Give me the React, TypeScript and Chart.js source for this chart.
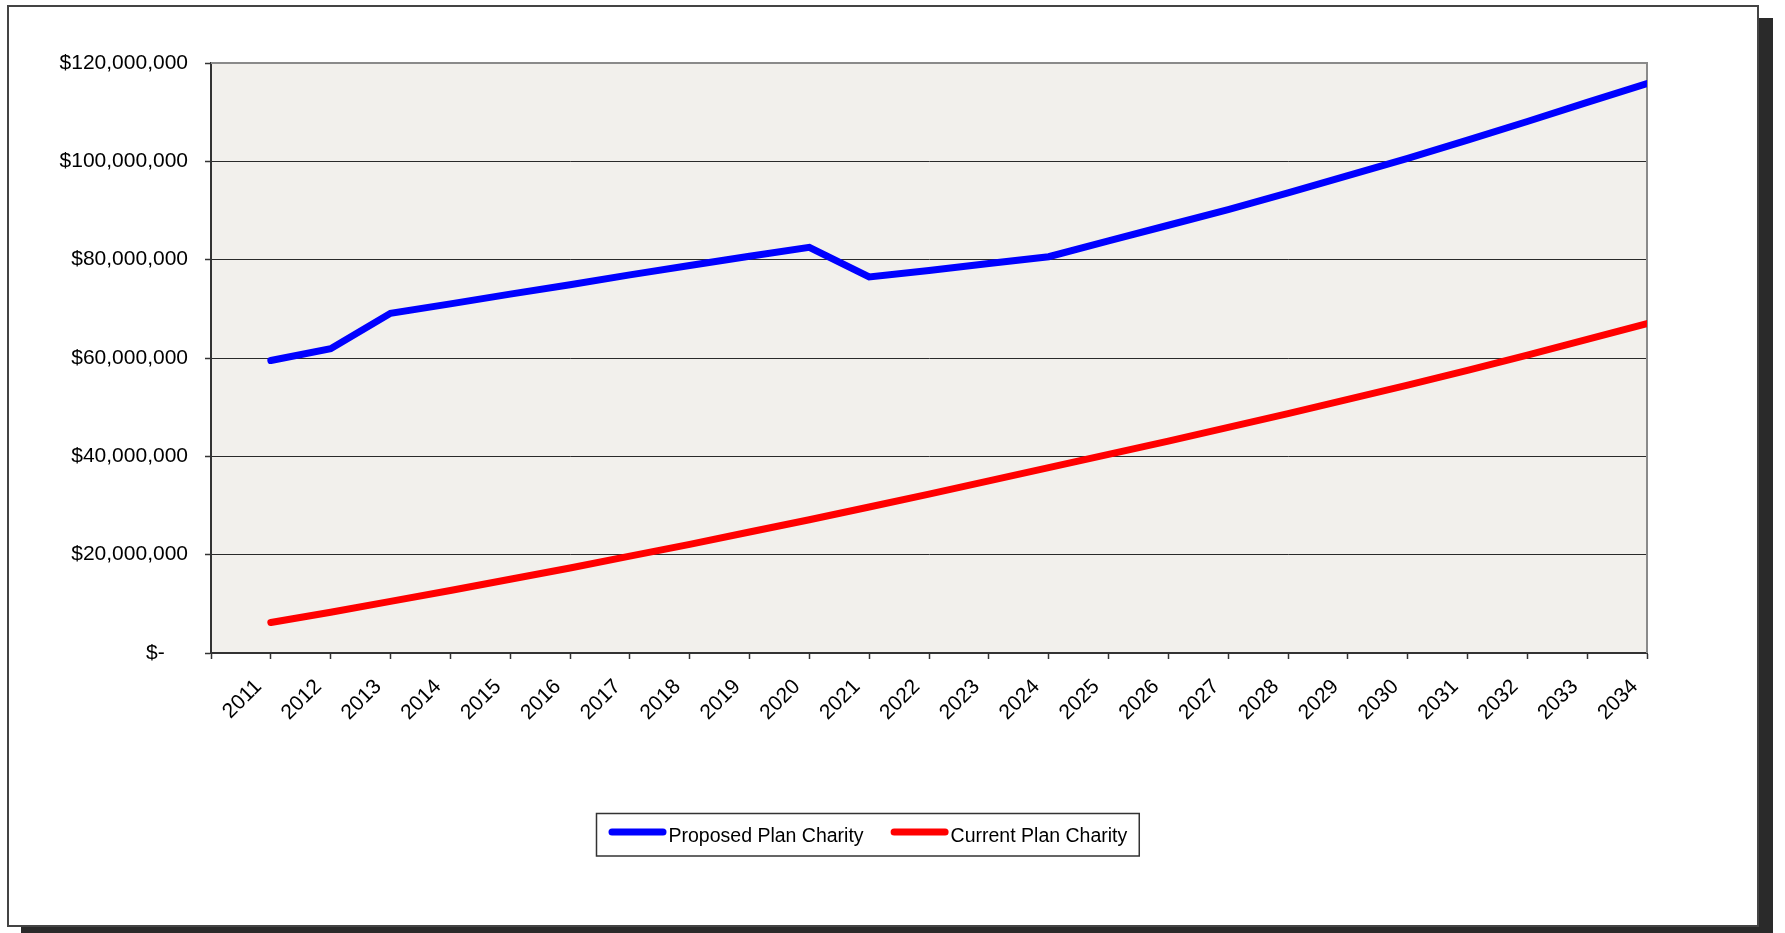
import { useEffect, useRef } from 'react';
import { Chart, registerables } from 'chart.js';

Chart.register(...registerables);

const FONT = "'Liberation Sans', Arial, Helvetica, sans-serif";

// Plan years
const years = [
  '2011', '2012', '2013', '2014', '2015', '2016', '2017', '2018', '2019', '2020', '2021', '2022',
  '2023', '2024', '2025', '2026', '2027', '2028', '2029', '2030', '2031', '2032', '2033', '2034',
];

// Charity totals, in millions of dollars
const proposedPlanCharity = [
  59.5, 61.9, 69.1, 71.0, 73.0, 74.9, 76.9, 78.8, 80.7, 82.5, 76.5, 77.8,
  79.2, 80.6, 83.8, 87.0, 90.2, 93.6, 97.1, 100.6, 104.3, 108.1, 112.0, 115.8,
];
const currentPlanCharity = [
  6.2, 8.3, 10.5, 12.7, 15.0, 17.3, 19.7, 22.1, 24.6, 27.1, 29.7, 32.3,
  35.0, 37.7, 40.4, 43.1, 45.9, 48.7, 51.6, 54.5, 57.5, 60.6, 63.8, 67.0,
];

// Value axis ticks, in millions
const yTicks = [0, 20, 40, 60, 80, 100, 120];

const seriesNames = ['Proposed Plan Charity', 'Current Plan Charity'];
const seriesColors = ['#0000FF', '#FF0000'];

function formatDollars(millions: number): string {
  if (millions === 0) return '$-    ';
  const whole = Math.round(millions * 1e6).toString();
  return '$' + whole.replace(/\B(?=(\d{3})+(?!\d))/g, ',');
}

// Shaded plot background plus the grey top and right edges of the plot.
const plotFrame = {
  id: 'plotFrame',
  beforeDraw(chart: any) {
    const { ctx, chartArea: a } = chart;
    ctx.save();
    ctx.fillStyle = '#F2F0EC';
    ctx.fillRect(a.left, a.top, a.right - a.left, a.bottom - a.top);
    ctx.restore();
  },
  beforeDatasetsDraw(chart: any) {
    const { ctx, chartArea: a } = chart;
    ctx.save();
    ctx.strokeStyle = '#8a8a8a';
    ctx.lineWidth = 2;
    ctx.beginPath();
    ctx.moveTo(a.left, a.top);
    ctx.lineTo(a.right, a.top);
    ctx.lineTo(a.right, a.bottom);
    ctx.stroke();
    ctx.restore();
  },
};

// Legend with line samples, enclosed in a thin box below the axis.
const boxedLegend = {
  id: 'boxedLegend',
  afterDraw(chart: any) {
    const ctx = chart.ctx;
    const datasets = chart.data.datasets;
    const left = 596.5;
    const top = 813.5;
    const height = 42.5;
    const sampleLen = 58;
    const lineY = top + 18.5;
    const textY = top + 28.5;
    ctx.save();
    ctx.font = `19.5px ${FONT}`;
    ctx.textAlign = 'left';
    ctx.textBaseline = 'alphabetic';
    let x = left + 12;
    datasets.forEach((ds: any, i: number) => {
      ctx.strokeStyle = ds.borderColor;
      ctx.lineWidth = 7;
      ctx.lineCap = 'round';
      ctx.beginPath();
      ctx.moveTo(x + 3.5, lineY);
      ctx.lineTo(x + sampleLen - 3.5, lineY);
      ctx.stroke();
      x += sampleLen + 2;
      ctx.fillStyle = '#000';
      ctx.fillText(ds.label, x, textY);
      x += ctx.measureText(ds.label).width;
      if (i < datasets.length - 1) x += 27;
    });
    const right = x + 12;
    ctx.strokeStyle = '#333';
    ctx.lineWidth = 1.5;
    ctx.strokeRect(left, top, right - left, height);
    ctx.restore();
  },
};

export default function App() {
  const canvasRef = useRef<HTMLCanvasElement>(null);

  useEffect(() => {
    const canvas = canvasRef.current;
    if (!canvas) return;

    const labels = ['', ...years];
    const series = [proposedPlanCharity, currentPlanCharity];

    const chart = new Chart(canvas, {
      type: 'line',
      data: {
        labels,
        datasets: series.map((values, i) => ({
          label: seriesNames[i],
          data: [null, ...values],
          borderColor: seriesColors[i],
          backgroundColor: seriesColors[i],
          borderWidth: 7,
          borderCapStyle: 'round',
          borderJoinStyle: 'miter',
          pointRadius: 0,
          pointHoverRadius: 0,
          tension: 0,
          fill: false,
          clip: 0,
        })),
      },
      options: {
        responsive: false,
        animation: false,
        events: [],
        layout: { padding: { left: 0, top: 63, right: 138, bottom: 180 } },
        plugins: {
          legend: { display: false },
          tooltip: { enabled: false },
        },
        scales: {
          x: {
            type: 'category',
            offset: false,
            grid: {
              display: true,
              drawOnChartArea: false,
              drawTicks: true,
              tickLength: 6,
              tickColor: '#333',
              tickWidth: 1.5,
            },
            border: { display: true, color: '#333', width: 2 },
            ticks: {
              autoSkip: false,
              maxRotation: 45,
              minRotation: 45,
              padding: 3,
              color: '#000',
              font: { family: FONT, size: 21 },
              // trailing spaces keep each year clear of its tick mark
              callback: (_v: any, i: number) => (labels[i] ? labels[i] + '   ' : ''),
            },
            afterFit: (scale: any) => {
              scale.height = 100;
            },
          },
          y: {
            type: 'linear',
            min: 0,
            max: 120,
            afterBuildTicks: (scale: any) => {
              scale.ticks = yTicks.map((v) => ({ value: v }));
            },
            grid: {
              color: (c: any) => (c.tick && c.tick.value === 120 ? 'rgba(0,0,0,0)' : '#2a2a2a'),
              lineWidth: 1,
              drawTicks: true,
              tickLength: 6,
              tickColor: '#333',
              tickWidth: 1.5,
            },
            border: { display: true, color: '#333', width: 2 },
            ticks: {
              padding: 17,
              color: '#000',
              font: { family: FONT, size: 21 },
              callback: (v: any) => formatDollars(Number(v)),
            },
            afterFit: (scale: any) => {
              scale.width = 211;
            },
          },
        },
      },
      plugins: [plotFrame, boxedLegend],
    } as any);

    return () => chart.destroy();
  }, []);

  return (
    <div
      style={{
        position: 'fixed',
        left: 0,
        top: 0,
        width: 1785,
        height: 933,
        background: '#fff',
        overflow: 'hidden',
      }}
    >
      <div
        style={{
          position: 'absolute',
          left: 7,
          top: 5,
          width: 1752,
          height: 922,
          boxSizing: 'border-box',
          border: '2px solid #444',
          background: '#fff',
          boxShadow: '14px 13px 0 #2a2a2a',
        }}
      />
      <canvas
        ref={canvasRef}
        width={1785}
        height={933}
        style={{ position: 'absolute', left: 0, top: 0 }}
      />
    </div>
  );
}
